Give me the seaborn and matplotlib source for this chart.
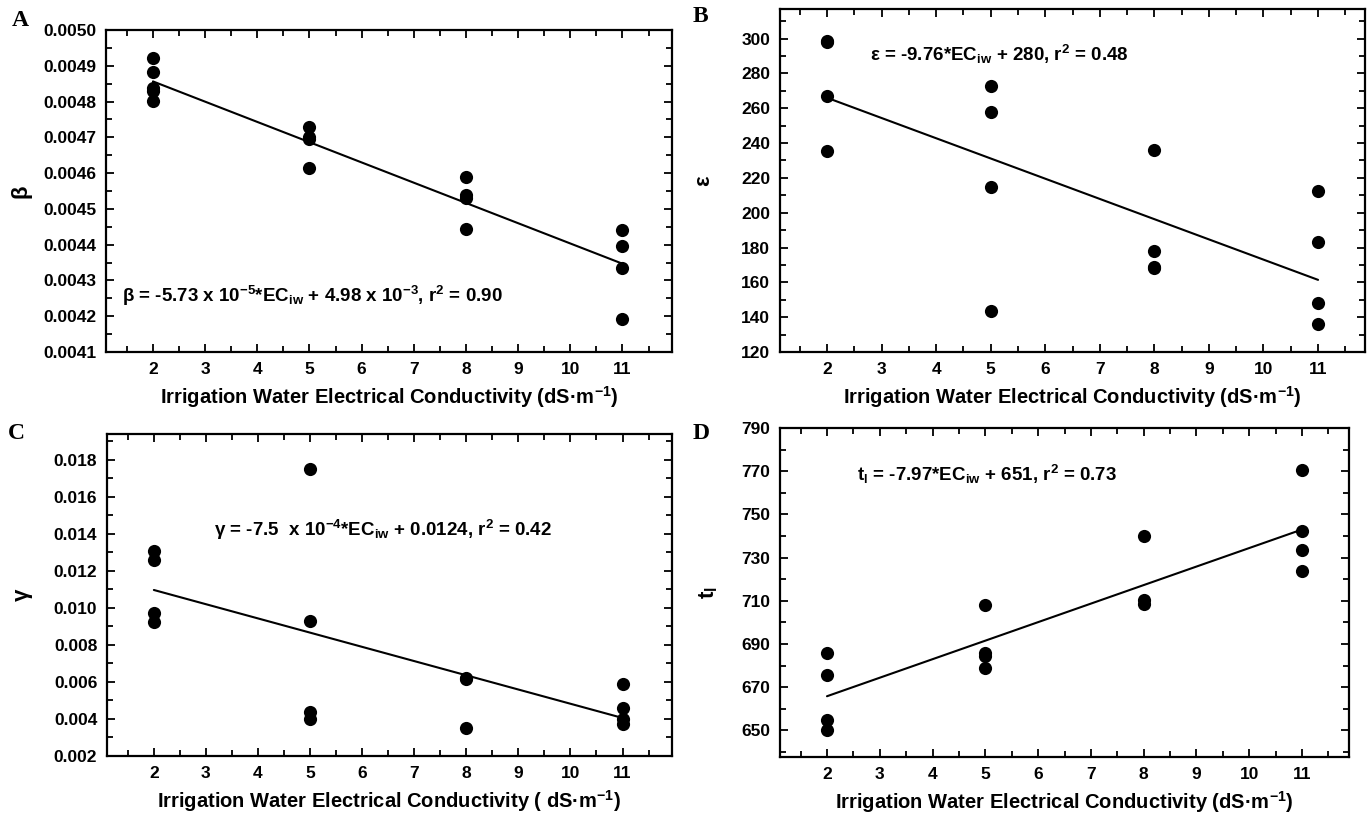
import numpy as np
import pandas as pd
import matplotlib
matplotlib.use("Agg")
import matplotlib.pyplot as plt
from matplotlib.ticker import MultipleLocator, FormatStrFormatter, FixedLocator
import seaborn as sns

# ---------------- data ----------------
ec_levels = [2, 5, 8, 11]
x_ticks = [2, 3, 4, 5, 6, 7, 8, 9, 10, 11]

beta_2 = [0.004922, 0.004883, 0.004838, 0.004830, 0.004802]
beta_5 = [0.004728, 0.004700, 0.004695, 0.004615]
beta_8 = [0.004589, 0.004538, 0.004530, 0.004445]
beta_11 = [0.004442, 0.004396, 0.004335, 0.004193]

eps_2 = [298.9, 298.2, 267.3, 235.3]
eps_5 = [272.5, 257.7, 214.5, 143.8]
eps_8 = [235.8, 178.0, 168.8, 168.2]
eps_11 = [212.6, 183.4, 148.4, 136.3]

gam_2 = [0.01306, 0.01261, 0.00973, 0.00923]
gam_5 = [0.01750, 0.00928, 0.00439, 0.00398]
gam_8 = [0.00620, 0.00614, 0.00353]
gam_11 = [0.00590, 0.00461, 0.00398, 0.00371]

tl_2 = [685.7, 675.7, 655.0, 650.4]
tl_5 = [707.9, 686.0, 684.6, 678.8]
tl_8 = [740.2, 710.6, 708.4]
tl_11 = [770.4, 742.5, 733.6, 723.6]

yticks_a = [0.0041, 0.0042, 0.0043, 0.0044, 0.0045, 0.0046, 0.0047, 0.0048, 0.0049, 0.0050]
yticks_b = [120, 140, 160, 180, 200, 220, 240, 260, 280, 300]
yticks_c = [0.002, 0.004, 0.006, 0.008, 0.010, 0.012, 0.014, 0.016, 0.018]
yticks_d = [650, 670, 690, 710, 730, 750, 770, 790]

xlabel_text = "Irrigation Water Electrical Conductivity (dS\u00b7m$^{-1}$)"
xlabel_text_c = "Irrigation Water Electrical Conductivity ( dS\u00b7m$^{-1}$)"
eq_a = "\u03b2 = -5.73 x 10$^{-5}$*EC$_{iw}$ + 4.98 x 10$^{-3}$, r$^{2}$ = 0.90"
eq_b = "\u03b5 = -9.76*EC$_{iw}$ + 280, r$^{2}$ = 0.48"
eq_c = "\u03b3 = -7.5  x 10$^{-4}$*EC$_{iw}$ + 0.0124, r$^{2}$ = 0.42"
eq_d = "t$_{l}$ = -7.97*EC$_{iw}$ + 651, r$^{2}$ = 0.73"


def to_frame(groups):
    xs, ys = [], []
    for lvl, vals in zip(ec_levels, groups):
        xs += [lvl] * len(vals)
        ys += list(vals)
    return pd.DataFrame({"EC": xs, "val": ys})


df_a = to_frame([beta_2, beta_5, beta_8, beta_11])
df_b = to_frame([eps_2, eps_5, eps_8, eps_11])
df_c = to_frame([gam_2, gam_5, gam_8, gam_11])
df_d = to_frame([tl_2, tl_5, tl_8, tl_11])

# ---------------- style ----------------
sns.set_theme(style="ticks")
plt.rcParams["font.family"] = ["Liberation Sans", "DejaVu Sans"]
plt.rcParams["font.weight"] = "bold"
plt.rcParams["text.color"] = "black"
plt.rcParams["axes.labelcolor"] = "black"
plt.rcParams["xtick.color"] = "black"
plt.rcParams["ytick.color"] = "black"
plt.rcParams["mathtext.fontset"] = "custom"
plt.rcParams["mathtext.rm"] = "Liberation Sans:bold"
plt.rcParams["mathtext.it"] = "Liberation Sans:bold"
plt.rcParams["mathtext.bf"] = "Liberation Sans:bold"
plt.rcParams["axes.linewidth"] = 1.6

fig = plt.figure(figsize=(13.72, 8.15), dpi=100)

W, H = 1372.0, 815.0


def rect(l, t, r, b):
    return [l / W, 1 - b / H, (r - l) / W, (b - t) / H]


panels = [
    dict(df=df_a, rect=rect(106, 30, 672, 352), xlim=(1.1, 11.95), ylim=(0.0041, 0.0050),
         yt=yticks_a, minor=0.00005, fmt="%.4f", ylabel="\u03b2", ylx=-0.15,
         eq=eq_a, eqx=1.41, eqy=0.004258, xl=xlabel_text, letter="A", lx=12, ly=20),
    dict(df=df_b, rect=rect(780, 9, 1365, 352), xlim=(1.14, 11.86), ylim=(120, 317),
         yt=yticks_b, minor=10, fmt="%d", ylabel="\u03b5", ylx=-0.13,
         eq=eq_b, eqx=2.79, eqy=291, xl=xlabel_text, letter="B", lx=693, ly=17),
    dict(df=df_c, rect=rect(107, 434, 672, 756), xlim=(1.1, 11.95), ylim=(0.002, 0.0194),
         yt=yticks_c, minor=0.001, fmt="%.3f", ylabel="\u03b3", ylx=-0.15,
         eq=eq_c, eqx=3.15, eqy=0.01422, xl=xlabel_text_c, letter="C", lx=8, ly=433),
    dict(df=df_d, rect=rect(780, 428, 1349, 757), xlim=(1.11, 11.89), ylim=(637.7, 790),
         yt=yticks_d, minor=10, fmt="%d", ylabel="t$_{l}$", ylx=-0.125,
         eq=eq_d, eqx=2.57, eqy=768.5, xl=xlabel_text, letter="D", lx=693, ly=433),
]

for p in panels:
    ax = fig.add_axes(p["rect"])
    d = p["df"]
    sns.regplot(data=d, x="EC", y="val", ax=ax, ci=None, color="black",
                scatter_kws=dict(s=90, linewidths=0, alpha=1, zorder=3),
                line_kws=dict(lw=1.5, zorder=2))
    ax.set_xlim(*p["xlim"])
    ax.set_ylim(*p["ylim"])
    ax.xaxis.set_major_locator(FixedLocator(x_ticks))
    ax.xaxis.set_minor_locator(MultipleLocator(0.5))
    ax.yaxis.set_major_locator(FixedLocator(p["yt"]))
    ax.yaxis.set_minor_locator(MultipleLocator(p["minor"]))
    ax.yaxis.set_major_formatter(FormatStrFormatter(p["fmt"]))
    ax.tick_params(which="both", direction="in", top=True, right=True,
                   colors="black", width=1.3)
    ax.tick_params(which="major", length=6, labelsize=12.5, pad=7)
    ax.tick_params(which="minor", length=4)
    for lab in ax.get_xticklabels() + ax.get_yticklabels():
        lab.set_fontweight("bold")
    for s in ax.spines.values():
        s.set_color("black")
    ax.set_xlabel(p["xl"], fontsize=14.5, fontweight="bold", labelpad=5,
                  color="black")
    ax.set_ylabel("")
    ax.text(p["ylx"], 0.5, p["ylabel"], transform=ax.transAxes, rotation=90,
            fontsize=16, fontweight="bold", ha="center", va="center", color="black")
    ax.text(p["eqx"], p["eqy"], p["eq"], fontsize=13.5, fontweight="bold",
            ha="left", va="center", color="black")
    fig.text(p["lx"] / W, 1 - p["ly"] / H, p["letter"], fontsize=17,
             fontweight="bold", family=["Liberation Serif", "DejaVu Serif"],
             ha="left", va="center", color="black")

fig.savefig("out.png", dpi=100, facecolor="white")
